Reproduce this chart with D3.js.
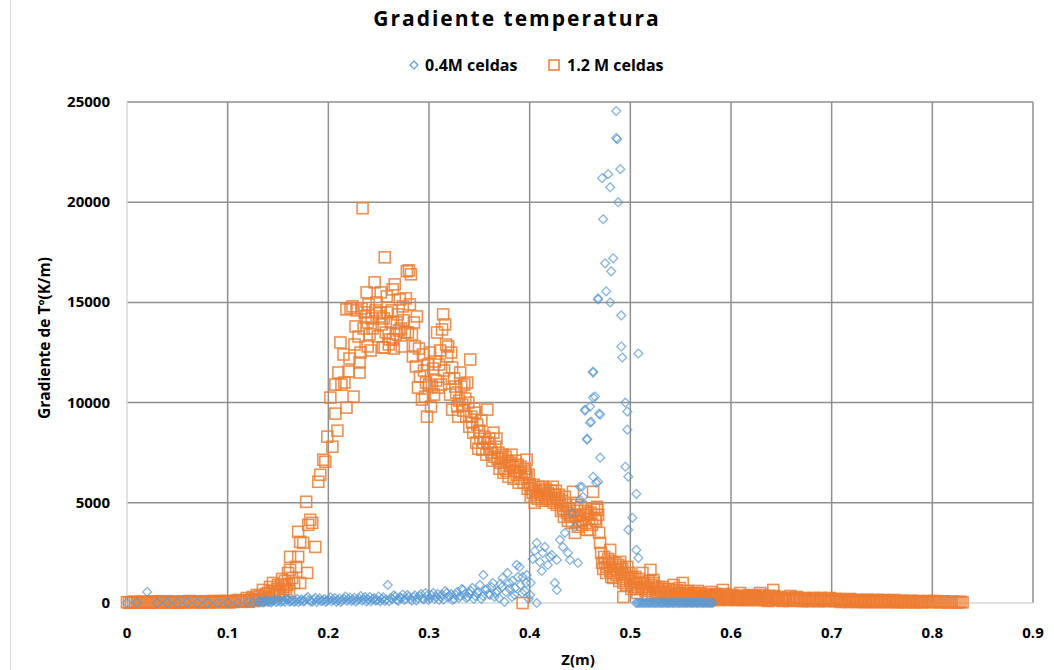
<!DOCTYPE html>
<html>
<head>
<meta charset="utf-8">
<script src="https://cdn.jsdelivr.net/npm/d3@7"></script>
<style>
  body { margin: 0; background: #fff; }
  text { font-family: "Open Sans", "Noto Sans", sans-serif; font-weight: bold; fill: #000; }
</style>
</head>
<body>
<svg width="1054" height="670"></svg>
<script>
// tick labels
var xTicks = [0, 0.1, 0.2, 0.3, 0.4, 0.5, 0.6, 0.7, 0.8, 0.9];
var yTicks = [0, 5000, 10000, 15000, 20000, 25000];
var seriesNames = ["0.4M celdas", "1.2 M celdas"];

// 0.4M celdas  [Z(m), gradiente K/m]
var celdas04 = [
  [0.000,0],[0.010,20],[0.020,550],[0.030,0],[0.040,20],[0.050,0],[0.060,30],[0.070,0],[0.080,20],[0.090,0],
  [0.100,30],[0.110,10],[0.120,40],[0.125,20],
  [0.130,50],[0.133,80],[0.136,30],[0.139,100],[0.142,60],[0.145,120],[0.148,40],[0.151,150],[0.154,90],[0.157,60],
  [0.160,180],[0.163,100],[0.166,50],[0.169,200],[0.172,120],[0.175,80],[0.178,220],[0.181,140],[0.184,60],[0.187,250],
  [0.190,150],[0.193,90],[0.196,200],[0.199,120],[0.202,280],[0.205,160],[0.208,60],[0.211,220],[0.214,140],[0.217,320],
  [0.220,180],[0.223,100],[0.226,260],[0.229,150],[0.232,350],[0.235,200],[0.238,80],[0.241,300],[0.244,180],[0.247,120],
  [0.250,320],[0.253,200],[0.256,100],[0.259,900],[0.262,250],[0.265,380],[0.268,150],[0.271,280],[0.274,420],[0.277,200],
  [0.280,320],[0.283,120],[0.286,380],[0.289,250],[0.292,450],[0.295,180],[0.298,350],[0.301,250],[0.304,500],[0.307,300],
  [0.310,150],[0.313,420],[0.316,600],[0.319,280],[0.322,450],[0.325,200],[0.328,550],[0.331,350],[0.334,650],[0.337,250],
  [0.340,480],[0.343,750],[0.346,350],[0.349,550],[0.352,200],[0.354,1400],[0.356,650],[0.359,450],[0.362,800],[0.365,300],
  [0.368,600],[0.371,950],[0.373,1250],[0.375,50],[0.378,1500],[0.380,700],[0.383,1100],[0.385,400],[0.387,1900],[0.390,1800],
  [0.391,900],[0.393,1300],[0.395,600],[0.397,1400],[0.399,200],[0.401,1000],[0.403,2200],[0.405,2600],[0.407,3000],[0.407,0],
  [0.410,2050],[0.412,1600],[0.413,2500],[0.415,2800],[0.418,1900],[0.420,2300],[0.422,2400],[0.425,1000],[0.427,2150],[0.427,650],
  [0.430,3150],[0.433,2800],[0.435,3500],[0.438,2500],[0.440,2150],[0.442,4500],[0.445,3800],[0.448,2000],[0.450,5150],[0.450,5800],
  [0.452,5800],[0.453,5300],[0.455,9600],[0.455,9650],[0.457,8150],[0.457,8200],[0.460,9000],[0.460,9800],[0.461,9050],[0.463,10250],
  [0.463,11500],[0.463,11550],[0.463,6300],[0.465,10300],[0.466,6000],[0.468,6050],[0.468,15150],[0.468,15200],[0.469,9450],[0.470,7250],
  [0.470,9400],[0.472,21200],[0.473,19150],[0.475,16950],[0.476,15550],[0.478,21400],[0.480,20750],[0.480,15000],[0.481,16550],[0.483,17200],
  [0.486,24550],[0.486,23200],[0.487,23150],[0.488,20000],[0.490,21650],[0.491,14350],[0.491,12800],[0.492,12250],[0.495,10000],[0.495,6800],
  [0.497,9550],[0.497,8650],[0.498,6300],[0.498,3650],[0.502,4250],[0.506,5450],[0.506,2650],[0.508,12450],[0.508,2250],
  [0.1315,100],[0.1345,40],[0.1375,140],[0.1405,70],[0.1435,30],[0.1465,160],[0.1495,90],[0.1525,50],[0.1555,130],[0.1585,200],
  [0.1615,70],[0.1645,150],[0.1675,90],[0.1705,40],[0.1735,180],[0.1765,110],[0.1795,300],[0.1825,80],[0.1855,170],[0.1885,60],
  [0.1915,230],[0.1945,120],[0.1975,60],[0.2005,170],[0.2035,90],[0.2065,240],[0.2095,130],[0.2125,60],[0.2155,200],[0.2185,100],
  [0.2215,270],[0.2245,160],[0.2275,70],[0.2305,220],[0.2335,120],[0.2365,300],[0.2395,170],[0.2425,90],[0.2455,250],[0.2485,140],
  [0.2515,80],[0.2545,280],[0.2575,170],[0.2605,90],[0.2635,200],[0.2665,330],[0.2695,110],[0.2725,240],[0.2755,150],[0.2785,400],
  [0.2815,200],[0.2845,300],[0.2875,130],[0.2905,350],[0.2935,220],[0.2965,500],[0.2995,150],[0.3025,380],[0.3055,200],[0.3085,450],
  [0.3115,300],[0.3145,180],[0.3175,500],[0.3205,350],[0.3235,150],[0.3265,400],[0.3295,250],[0.3325,700],[0.3355,450],[0.3385,300],
  [0.3415,600],[0.3445,200],[0.3475,500],[0.3505,900],[0.3535,350],[0.3575,700],[0.3605,400],[0.3635,1000],[0.3665,500],[0.3695,250],
  [0.3725,800],[0.3765,550],[0.3795,1000],[0.3825,300],[0.3855,750],[0.3885,1300],[0.3925,500],[0.3965,1000],[0.4005,400],
  [0.5055,0],[0.5070,10],[0.5085,0],[0.5100,20],[0.5115,0],[0.5130,10],[0.5145,0],[0.5160,20],[0.5175,0],[0.5190,10],
  [0.5205,0],[0.5220,20],[0.5235,0],[0.5250,10],[0.5265,0],[0.5280,20],[0.5295,0],[0.5310,10],[0.5325,0],[0.5340,20],
  [0.5355,0],[0.5370,10],[0.5385,0],[0.5400,20],[0.5415,0],[0.5430,10],[0.5445,0],[0.5460,20],[0.5475,0],[0.5490,10],
  [0.5505,0],[0.5520,20],[0.5535,0],[0.5550,10],[0.5565,0],[0.5580,20],[0.5595,0],[0.5610,10],[0.5625,0],[0.5640,20],
  [0.5655,0],[0.5670,10],[0.5685,0],[0.5700,20],[0.5715,0],[0.5730,10],[0.5745,0],[0.5760,20],[0.5775,0],[0.5790,10],
  [0.5805,0],[0.5820,10]
];

// 1.2 M celdas  [Z(m), gradiente K/m]
var celdas12 = [
  [0.000,40],[0.004,20],[0.008,50],[0.012,30],[0.016,40],[0.020,60],[0.024,30],[0.028,50],[0.032,70],[0.036,30],
  [0.040,60],[0.044,40],[0.048,70],[0.052,40],[0.056,80],[0.060,50],[0.064,70],[0.068,40],[0.072,80],[0.076,60],
  [0.080,40],[0.084,70],[0.088,50],[0.092,90],[0.096,60],[0.100,50],[0.104,90],[0.108,70],[0.112,120],[0.116,90],
  [0.002,10],[0.006,60],[0.010,20],[0.014,70],[0.018,30],[0.022,10],[0.026,80],[0.030,20],[0.034,50],[0.038,90],
  [0.042,20],[0.046,60],[0.050,10],[0.054,50],[0.058,20],[0.062,100],[0.066,30],[0.070,60],[0.074,20],[0.078,90],
  [0.082,30],[0.086,100],[0.090,30],[0.094,60],[0.098,110],[0.102,30],[0.106,60],[0.110,150],[0.114,60],[0.118,130],
  [0.121,60],[0.124,180],[0.127,100],[0.131,200],[0.134,150],[0.138,450],[0.141,250],[0.144,600],[0.146,350],[0.149,700],
  [0.151,550],[0.153,900],[0.155,450],[0.157,1100],[0.159,900],[0.161,600],
  [0.119,250],[0.122,150],[0.125,300],[0.128,200],[0.129,400],[0.132,350],[0.135,650],[0.137,300],[0.140,500],[0.142,800],
  [0.145,1000],[0.147,600],[0.150,900],[0.152,400],[0.154,1200],[0.156,800],[0.158,700],[0.160,1500],[0.162,1650],[0.164,1250],
  [0.162,2300],[0.166,1000],[0.168,1800],[0.170,2300],[0.172,1000],[0.172,3050],[0.170,3550],[0.175,3000],[0.179,1500],[0.180,3900],
  [0.182,4150],[0.184,4000],[0.187,2800],[0.178,5050],[0.190,6050],[0.192,6400],[0.195,7150],[0.197,7050],[0.199,8300],[0.202,10250],
  [0.204,7800],[0.207,9450],[0.207,10900],[0.209,8600],[0.210,11500],[0.213,10900],[0.215,12400],[0.218,9750],[0.220,11550],[0.218,14650],
  [0.222,14700],[0.225,10300],[0.226,12900],[0.228,14600],[0.231,12000],[0.231,11500],[0.233,14700],[0.234,19700],[0.236,14500],[0.238,15500],
  [0.239,12800],[0.239,14000],[0.241,13400],[0.243,14200],[0.246,16000],[0.248,15000],[0.251,14300],[0.251,14500],[0.254,12750],[0.256,17250],
  [0.256,12750],[0.258,15300],[0.261,13150],[0.262,14000],[0.264,13150],[0.264,15650],[0.266,15900],[0.268,14000],[0.270,13600],[0.271,15150],
  [0.274,14800],[0.276,13500],[0.278,16550],[0.280,16600],[0.282,16400],[0.279,13500],[0.281,14900],[0.284,12300],[0.285,14000],[0.288,14300],
  [0.289,10750],[0.290,12700],[0.293,10150],[0.295,11600],[0.298,9300],[0.299,11900],[0.301,12500],[0.303,10800],[0.306,12050],[0.308,13500],
  [0.309,10750],[0.310,11900],[0.313,13650],[0.314,14400],[0.316,13900],[0.318,12300],[0.319,12800],[0.320,11200],[0.323,11750],[0.323,9650],
  [0.326,10800],[0.328,9800],[0.330,10100],[0.331,11500],[0.333,9900],[0.336,10200],[0.338,11000],[0.341,12150],[0.343,9000],[0.345,9700],
  [0.346,9500],[0.347,8000],[0.350,8600],[0.353,7650],[0.355,8300],[0.358,9650],[0.360,8200],[0.362,7500],[0.364,8500],[0.366,7800],
  [0.368,7200],[0.371,7000],[0.373,7400],[0.375,6700],[0.378,7100],[0.380,6900],[0.382,7400],[0.383,6800],[0.385,6600],[0.388,6900],
  [0.390,6500],[0.392,6200],[0.395,6700],[0.397,7150],[0.397,6300],[0.400,5900],[0.403,5500],[0.405,5000],[0.407,5400],[0.410,5600],
  [0.413,5800],[0.415,5300],[0.418,5500],[0.420,5100],[0.423,5800],[0.425,5400],[0.428,5200],[0.430,5000],[0.433,4700],[0.435,5300],
  [0.437,4500],[0.440,4300],[0.443,5550],[0.445,3500],[0.447,4900],[0.450,4100],[0.453,4150],[0.455,4600],[0.457,3650],[0.460,3650],
  [0.463,5550],[0.465,4200],[0.467,4650],[0.467,4800],[0.470,3000],[0.472,2000],[0.474,2300],[0.477,1800],[0.480,2650],[0.480,1600],
  [0.483,1500],[0.483,1250],[0.485,2000],[0.487,1650],[0.490,1800],[0.490,2050],[0.493,1000],[0.493,300],[0.495,1400],[0.497,1300],
  [0.497,1800],[0.500,1100],[0.502,900],[0.505,1300],[0.508,700],[0.510,1000],[0.512,1500],[0.513,800],[0.515,600],[0.518,1100],
  [0.520,1650],[0.523,1150],[0.523,1000],[0.525,500],[0.528,800],[0.530,600],[0.532,800],[0.535,400],[0.538,700],[0.540,500],
  [0.543,900],[0.546,650],[0.548,300],[0.550,500],[0.552,1000],[0.555,400],[0.557,600],[0.559,150],[0.562,450],[0.565,300],
  [0.567,600],[0.569,500],[0.572,200],[0.575,400],[0.578,300],[0.580,550],[0.583,250],[0.586,400],[0.589,300],[0.592,650],
  [0.595,350],[0.598,200],[0.601,400],[0.604,250],[0.607,350],[0.609,500],[0.612,200],[0.615,300],[0.618,400],[0.621,200],
  [0.624,350],[0.627,250],[0.629,500],[0.632,300],[0.635,150],[0.638,350],[0.642,650],[0.645,250],[0.648,300],[0.652,150],
  [0.655,250],[0.659,350],[0.662,150],[0.666,250],[0.670,100],[0.674,200],[0.678,150],[0.682,250],[0.686,100],[0.690,200],
  [0.694,150],[0.698,250],[0.702,100],[0.706,200],[0.710,150],[0.714,100],[0.718,200],[0.722,100],[0.726,150],[0.730,50],
  [0.734,150],[0.738,100],[0.742,50],[0.746,150],[0.750,100],[0.754,50],[0.758,100],[0.762,150],[0.766,50],[0.770,100],
  [0.774,50],[0.778,100],[0.782,50],[0.786,100],[0.790,50],[0.794,80],[0.798,50],[0.802,100],[0.806,50],[0.810,80],
  [0.814,40],[0.818,60],[0.822,40],[0.826,50],[0.830,30],[0.393,0],
  [0.212,13000],[0.216,11000],[0.221,12200],[0.224,14800],[0.227,13800],[0.230,13300],[0.232,12500],[0.235,13700],[0.237,14300],[0.240,14900],
  [0.242,12600],[0.244,13700],[0.247,14600],[0.249,13300],[0.252,15500],[0.253,13900],[0.255,14200],[0.257,13500],[0.259,14500],[0.260,12900],
  [0.263,14600],[0.265,12700],[0.267,13400],[0.269,14400],[0.272,13700],[0.273,12800],[0.275,14100],[0.277,15200],[0.283,13400],[0.286,12800],
  [0.287,11800],[0.291,11300],[0.294,12400],[0.296,10300],[0.297,11000],[0.300,10900],[0.302,9800],[0.304,11700],[0.305,10400],[0.307,11100],
  [0.311,12600],[0.312,10900],[0.315,11600],[0.317,12900],[0.321,10400],[0.322,12500],[0.325,11200],[0.327,10500],[0.329,9300],[0.332,10800],
  [0.334,9600],[0.335,10900],[0.337,9300],[0.339,10000],[0.340,8800],[0.342,9300],[0.344,8500],[0.348,8900],[0.349,7700],[0.351,8200],
  [0.352,9100],[0.354,8000],[0.357,7400],[0.359,8000],[0.361,7700],[0.363,7100],[0.365,7300],[0.367,8200],[0.369,7500],[0.370,6700],
  [0.372,7200],[0.374,6500],[0.376,7300],[0.377,6600],[0.379,6300],[0.381,7000],[0.384,6200],[0.386,7100],[0.387,6400],[0.389,6000],
  [0.391,6800],[0.394,6000],[0.396,6500],[0.398,5700],[0.399,6400],[0.401,5300],[0.402,5700],[0.404,5900],[0.406,5600],[0.408,5200],
  [0.409,5800],[0.411,5400],[0.412,5100],[0.414,5600],[0.416,5700],[0.417,5200],[0.419,5400],[0.421,5600],[0.422,5200],[0.424,5000],
  [0.426,5600],[0.427,4900],[0.429,5400],[0.431,4600],[0.432,5100],[0.434,4300],[0.436,4900],[0.438,4100],[0.439,4700],[0.441,4400],
  [0.442,4000],[0.444,4600],[0.446,4300],[0.448,3800],[0.449,4400],[0.451,4800],[0.452,3900],[0.454,4400],[0.456,4000],[0.458,4500],
  [0.459,4200],[0.461,4500],[0.462,3900],[0.464,4700],[0.466,4100],[0.468,4400],[0.469,3500],[0.471,2500],[0.473,1700],[0.475,2000],
  [0.476,1500],[0.478,2200],[0.479,1900],[0.481,1300],[0.482,2000],[0.484,1700],[0.486,1400],[0.488,1900],[0.489,1100],[0.491,1500],
  [0.492,1700],[0.494,1200],[0.496,900],[0.499,1500],[0.501,700],[0.503,1200],[0.504,800],[0.506,1000],[0.507,500],[0.509,1200],
  [0.511,700],[0.514,1000],[0.516,800],[0.517,400],[0.519,700],[0.521,900],[0.522,500],[0.524,800],[0.526,700],[0.527,300],
  [0.529,500],[0.531,300],[0.533,500],[0.534,700],[0.536,300],[0.537,500],[0.539,200],[0.541,600],[0.542,300],[0.544,450],
  [0.545,200],[0.547,500],[0.549,750],[0.551,200],[0.553,350],[0.554,600],[0.556,250],[0.558,400],[0.560,300],[0.561,150],
  [0.563,350],[0.564,500],[0.566,200],[0.568,350],[0.570,250],[0.571,450],[0.573,300],[0.574,150],[0.576,350],[0.577,200],
  [0.579,400],[0.581,150],[0.582,350],[0.584,450],[0.585,200],[0.587,300],[0.588,150],[0.590,400],[0.591,250],[0.593,200],
  [0.594,450],[0.596,300],[0.597,150],[0.599,300],[0.600,200],[0.603,350],[0.605,150],[0.606,300],[0.608,200],[0.610,300],
  [0.611,150],[0.613,350],[0.614,250],[0.616,150],[0.617,300],[0.619,200],[0.620,350],[0.622,150],[0.623,250],[0.625,300],
  [0.626,150],[0.628,300],[0.630,200],[0.631,400],[0.633,150],[0.634,250],[0.636,300],[0.637,100],[0.640,250],[0.641,150],
  [0.643,350],[0.644,200],[0.646,150],[0.647,250],[0.650,200],[0.651,100],[0.653,250],[0.654,150],[0.657,200],[0.658,100],
  [0.661,250],[0.664,150],[0.665,300],[0.668,150],[0.669,200],[0.672,100],[0.673,250],[0.676,150],[0.677,100],[0.680,200],
  [0.681,100],[0.684,200],[0.685,150],[0.688,100],[0.689,250],[0.692,150],[0.693,100],[0.696,200],[0.697,100],[0.700,150],
  [0.704,200],[0.705,100],[0.708,150],[0.709,50],[0.712,150],[0.713,100],[0.716,150],[0.717,50],[0.720,100],[0.721,150],
  [0.724,50],[0.725,100],[0.728,150],[0.729,100],[0.732,100],[0.733,50],[0.736,150],[0.737,50],[0.740,100],[0.741,150],
  [0.744,100],[0.745,50],[0.748,100],[0.749,50],[0.752,150],[0.753,100],[0.756,50],[0.757,100],[0.760,50],[0.761,100],
  [0.764,100],[0.765,50],[0.768,100],[0.769,50],[0.772,100],[0.773,50],[0.776,80],[0.777,50],[0.780,100],[0.781,50],
  [0.784,80],[0.785,40],[0.788,80],[0.789,40],[0.792,60],[0.796,100],[0.800,40],[0.804,80],[0.808,40],[0.812,70],
  [0.816,30],[0.820,60],[0.824,30],[0.828,60]
];

function main(){
    var svg = d3.select("svg");
    var left = 127, right = 1033, top = 102, bottom = 603;

    var xScale = d3.scaleLinear().domain([0, 0.9]).range([left, right]),
        yScale = d3.scaleLinear().domain([0, 25000]).range([bottom, top]);

    // chart frame edge
    svg.append("line").attr("x1", 10.5).attr("x2", 10.5).attr("y1", 0).attr("y2", 670)
        .attr("stroke", "#d9d9d9").attr("stroke-width", 1);

    // gridlines
    svg.append("g").selectAll("line").data(yTicks.filter(function(d){ return d > 0; }))
        .enter().append("line")
        .attr("x1", left).attr("x2", right)
        .attr("y1", function(d){ return yScale(d); }).attr("y2", function(d){ return yScale(d); })
        .attr("stroke", "#8f8f8f").attr("stroke-width", 1.5);
    svg.append("g").selectAll("line").data(xTicks.filter(function(d){ return d > 0; }))
        .enter().append("line")
        .attr("x1", function(d){ return xScale(d); }).attr("x2", function(d){ return xScale(d); })
        .attr("y1", top).attr("y2", bottom)
        .attr("stroke", "#8f8f8f").attr("stroke-width", 1.5);

    // axis lines
    svg.append("line").attr("x1", left).attr("x2", right).attr("y1", bottom).attr("y2", bottom)
        .attr("stroke", "#d9d9d9").attr("stroke-width", 1.5);
    svg.append("line").attr("x1", left).attr("x2", left).attr("y1", top).attr("y2", bottom)
        .attr("stroke", "#d9d9d9").attr("stroke-width", 1.5);

    // tick labels
    svg.append("g").selectAll("text").data(yTicks).enter().append("text")
        .attr("x", 110).attr("y", function(d){ return yScale(d) + 5; })
        .attr("text-anchor", "end").attr("font-size", 15)
        .text(function(d){ return d; });
    svg.append("g").selectAll("text").data(xTicks).enter().append("text")
        .attr("x", function(d){ return xScale(d); }).attr("y", 638)
        .attr("text-anchor", "middle").attr("font-size", 15)
        .text(function(d){ return d; });

    // axis titles
    svg.append("text").attr("x", 578).attr("y", 665).attr("text-anchor", "middle")
        .attr("font-size", 15).text("Z(m)");
    svg.append("text").attr("transform", "translate(50,338) rotate(-90)")
        .attr("text-anchor", "middle").attr("font-size", 15.5).text("Gradiente de Tº(K/m)");

    // title
    svg.append("text").attr("x", 517).attr("y", 26).attr("text-anchor", "middle")
        .attr("font-size", 21).attr("letter-spacing", "2px").text("Gradiente temperatura");

    // series
    var diamond = d3.symbol().type(d3.symbolDiamond2).size(50);

    var sq = 11;
    svg.append("g").selectAll("rect").data(celdas12).enter().append("rect")
        .attr("x", function(d){ return xScale(d[0]) - sq / 2; })
        .attr("y", function(d){ return yScale(d[1]) - sq / 2; })
        .attr("width", sq).attr("height", sq)
        .attr("fill", "none").attr("stroke", "#ED7D31").attr("stroke-width", 1.6)
        .attr("stroke-opacity", 0.85);

    svg.append("g").selectAll("path").data(celdas04).enter().append("path")
        .attr("d", diamond)
        .attr("transform", function(d){ return "translate(" + xScale(d[0]) + "," + yScale(d[1]) + ")"; })
        .attr("fill", "none").attr("stroke", "#5B9BD5").attr("stroke-width", 1.3)
        .attr("stroke-opacity", 0.75);

    // legend
    var lg = svg.append("g");
    lg.append("path").attr("d", d3.symbol().type(d3.symbolDiamond2).size(40))
        .attr("transform", "translate(414,65)")
        .attr("fill", "none").attr("stroke", "#5B9BD5").attr("stroke-width", 1.2);
    lg.append("text").attr("x", 425).attr("y", 71).attr("font-size", 16).text(seriesNames[0]);
    lg.append("rect").attr("x", 549).attr("y", 60).attr("width", 10).attr("height", 10)
        .attr("fill", "none").attr("stroke", "#ED7D31").attr("stroke-width", 1.5);
    lg.append("text").attr("x", 567).attr("y", 71).attr("font-size", 16).text(seriesNames[1]);
}
main();
</script>
</body>
</html>
